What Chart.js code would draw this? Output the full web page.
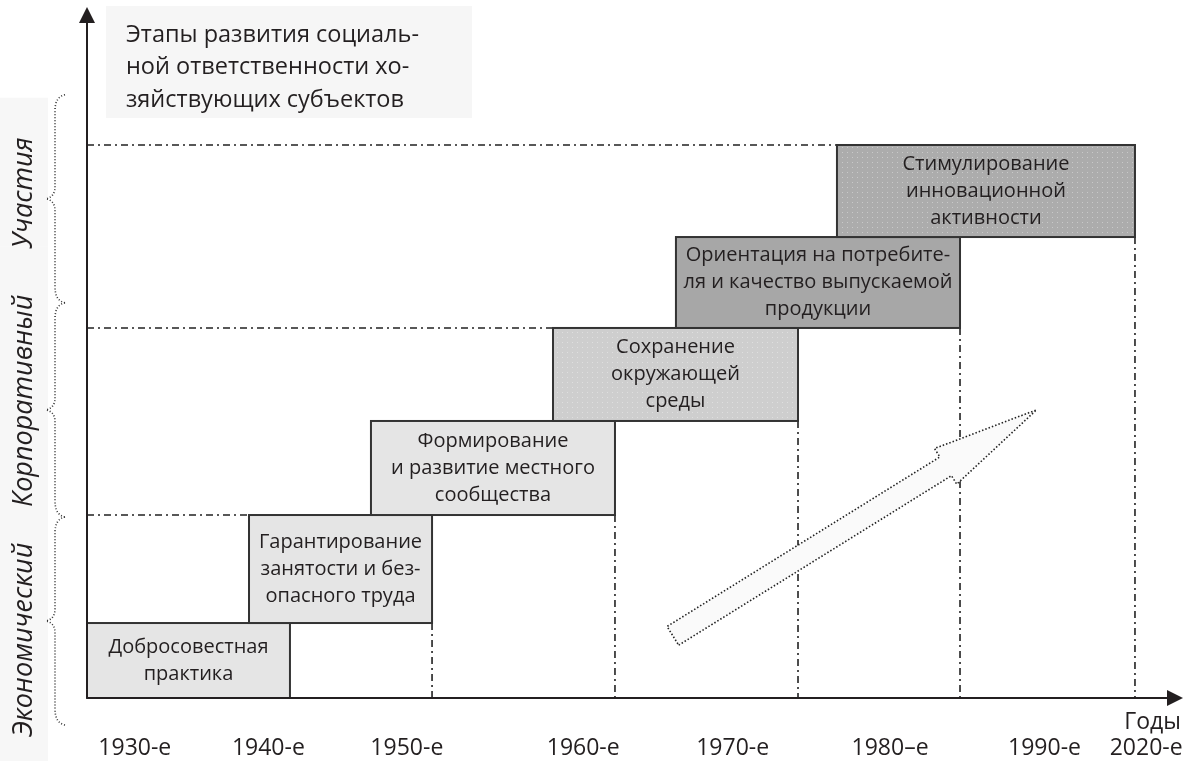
<!DOCTYPE html>
<html>
<head>
<meta charset="utf-8">
<script src="https://cdn.jsdelivr.net/npm/chart.js@4.4.1/dist/chart.umd.min.js"></script>
<style>
  html, body { margin: 0; padding: 0; background: #fff; }
</style>
</head>
<body>
<canvas id="stagesChart" width="1193" height="761"></canvas>
<script>
// x axis: abstract timeline units, y axis: level of responsibility
const tickPositions = [4.8, 18.2, 32.1, 49.8, 64.8, 80.6, 96.1, 106.3];
const tickLabels = ['1930-е', '1940-е', '1950-е', '1960-е', '1970-е', '1980–е', '1990-е', '2020-е'];

const stageNames = [
  ['Добросовестная', 'практика'],
  ['Гарантирование', 'занятости и без-', 'опасного труда'],
  ['Формирование', 'и развитие местного', 'сообщества'],
  ['Сохранение', 'окружающей', 'среды'],
  ['Ориентация на потребите-', 'ля и качество выпускаемой', 'продукции'],
  ['Стимулирование', 'инновационной', 'активности']
];
const stageStart = [0, 16.26, 28.5, 46.77, 59.11, 75.27];
const stageEnd = [20.37, 34.63, 52.99, 71.36, 87.62, 105.18];
const stageBottom = [0, 10.85, 26.48, 40.09, 53.55, 66.71];
const stageTop = [10.85, 26.48, 40.09, 53.55, 66.71, 80.03];

const levelNames = ['Экономический', 'Корпоративный', 'Участия'];
const levelFrom = [-3.9, 26.2, 57.2];
const levelTo = [26.2, 57.2, 87.3];
const levelLabelY = [8.4, 43, 73.1];

const trendFrom = [58.8, 9.0];
const trendTo = [95.3, 41.7];

const titleLines = ['Этапы развития социаль-', 'ной ответственности хо-', 'зяйствующих субъектов'];
const axisName = 'Годы';

// styles
const stageFill = ['#e5e5e5', '#e5e5e5', '#e5e5e5', '#cecece', '#a7a7a7', '#acacac'];
const stageDots = [false, false, false, true, false, true];
const ink = '#231f20';
const FONT = '"Open Sans", "Noto Sans", sans-serif';

function dotPattern(ctx) {
  const c = document.createElement('canvas');
  c.width = 5; c.height = 5;
  const p = c.getContext('2d');
  p.fillStyle = 'rgba(255,255,255,0.35)';
  p.fillRect(2, 2, 1, 1);
  return ctx.createPattern(c, 'repeat');
}

function brace(ctx, x, top, bottom) {
  const mid = (top + bottom) / 2;
  const xr = x + 10, xl = x - 9;
  ctx.beginPath();
  ctx.moveTo(xr, top);
  ctx.quadraticCurveTo(x, top + 2, x, top + 16);
  ctx.lineTo(x, mid - 12);
  ctx.quadraticCurveTo(x, mid - 2, xl, mid);
  ctx.quadraticCurveTo(x, mid + 2, x, mid + 12);
  ctx.lineTo(x, bottom - 16);
  ctx.quadraticCurveTo(x, bottom - 2, xr, bottom);
  ctx.stroke();
}

const diagramPlugin = {
  id: 'diagram',
  beforeDatasetsDraw(chart) {
    const { ctx, chartArea: a, scales: { x, y } } = chart;
    ctx.save();

    // title panel
    ctx.fillStyle = '#f6f6f6';
    ctx.fillRect(106, 6, 366, 112);
    ctx.fillStyle = ink;
    ctx.font = '23.5px ' + FONT;
    ctx.textAlign = 'left';
    ctx.textBaseline = 'middle';
    titleLines.forEach((t, i) => ctx.fillText(t, 126, 35 + i * 32.5));

    // left level labels with braces
    levelNames.forEach((name, i) => {
      const yTop = y.getPixelForValue(levelTo[i]);
      const yBot = y.getPixelForValue(levelFrom[i]);
      ctx.fillStyle = '#f7f7f7';
      const sTop = i === 2 ? yTop + 3 : yTop - 56;
      const sBot = i === 0 ? chart.height : yBot - 56;
      ctx.fillRect(0, sTop, 48, sBot - sTop);
      ctx.strokeStyle = '#333';
      ctx.lineWidth = 1.6;
      ctx.setLineDash([1, 2]);
      brace(ctx, 55, yTop, yBot);
      ctx.setLineDash([]);
      ctx.save();
      ctx.translate(24, y.getPixelForValue(levelLabelY[i]));
      ctx.rotate(-Math.PI / 2);
      ctx.fillStyle = ink;
      ctx.font = 'italic 27px ' + FONT;
      ctx.textAlign = 'center';
      ctx.textBaseline = 'middle';
      ctx.fillText(name, 0, 0);
      ctx.restore();
    });

    // dash-dot guides
    ctx.strokeStyle = '#222';
    ctx.lineWidth = 1.6;
    ctx.setLineDash([7, 4, 2, 4]);
    [1, 3, 5].forEach(i => {
      ctx.beginPath();
      ctx.moveTo(x.getPixelForValue(0), y.getPixelForValue(stageTop[i]));
      ctx.lineTo(x.getPixelForValue(stageStart[i]), y.getPixelForValue(stageTop[i]));
      ctx.stroke();
    });
    for (let i = 1; i < stageNames.length; i++) {
      ctx.beginPath();
      ctx.moveTo(x.getPixelForValue(stageEnd[i]), y.getPixelForValue(stageBottom[i]));
      ctx.lineTo(x.getPixelForValue(stageEnd[i]), y.getPixelForValue(0));
      ctx.stroke();
    }
    ctx.setLineDash([]);

    // stage boxes
    const dots = dotPattern(ctx);
    stageNames.forEach((lines, i) => {
      const x0 = x.getPixelForValue(stageStart[i]);
      const x1 = x.getPixelForValue(stageEnd[i]);
      const y0 = y.getPixelForValue(stageTop[i]);
      const y1 = y.getPixelForValue(stageBottom[i]);
      ctx.fillStyle = stageFill[i];
      ctx.fillRect(x0, y0, x1 - x0, y1 - y0);
      if (stageDots[i]) {
        ctx.fillStyle = dots;
        ctx.fillRect(x0, y0, x1 - x0, y1 - y0);
      }
      ctx.strokeStyle = '#333';
      ctx.lineWidth = 2;
      ctx.strokeRect(x0, y0, x1 - x0, y1 - y0);
      ctx.fillStyle = ink;
      ctx.font = '20px ' + FONT;
      ctx.textAlign = 'center';
      ctx.textBaseline = 'middle';
      const cy = (y0 + y1) / 2;
      const lh = 27;
      lines.forEach((t, k) => {
        ctx.fillText(t, (x0 + x1) / 2, cy + (k - (lines.length - 1) / 2) * lh);
      });
    });

    // trend arrow
    const tx0 = x.getPixelForValue(trendFrom[0]), ty0 = y.getPixelForValue(trendFrom[1]);
    const tx1 = x.getPixelForValue(trendTo[0]), ty1 = y.getPixelForValue(trendTo[1]);
    const len = Math.hypot(tx1 - tx0, ty1 - ty0);
    const ux = (tx1 - tx0) / len, uy = (ty1 - ty0) / len;
    const nx = -uy, ny = ux;
    const shaft = 11, head = 21, headLen = 107;
    const bx = tx1 - ux * headLen, by = ty1 - uy * headLen;
    ctx.beginPath();
    ctx.moveTo(tx0 + nx * shaft, ty0 + ny * shaft);
    ctx.lineTo(bx + nx * shaft, by + ny * shaft);
    ctx.lineTo(bx + nx * head, by + ny * head);
    ctx.lineTo(tx1, ty1);
    ctx.lineTo(bx - nx * head, by - ny * head);
    ctx.lineTo(bx - nx * shaft, by - ny * shaft);
    ctx.lineTo(tx0 - nx * shaft, ty0 - ny * shaft);
    ctx.closePath();
    ctx.fillStyle = '#fafafa';
    ctx.fill();
    ctx.strokeStyle = '#222';
    ctx.lineWidth = 1.6;
    ctx.setLineDash([1.5, 2]);
    ctx.stroke();
    ctx.setLineDash([]);

    // axes with arrow heads
    const ox = a.left, oy = a.bottom;
    ctx.strokeStyle = ink;
    ctx.fillStyle = ink;
    ctx.lineWidth = 2;
    ctx.beginPath();
    ctx.moveTo(ox, oy);
    ctx.lineTo(ox, a.top + 14);
    ctx.moveTo(ox, oy);
    ctx.lineTo(a.right - 14, oy);
    ctx.stroke();
    ctx.beginPath();
    ctx.moveTo(ox, a.top);
    ctx.lineTo(ox - 8, a.top + 16);
    ctx.lineTo(ox + 8, a.top + 16);
    ctx.closePath();
    ctx.fill();
    ctx.beginPath();
    ctx.moveTo(a.right, oy);
    ctx.lineTo(a.right - 16, oy - 8);
    ctx.lineTo(a.right - 16, oy + 8);
    ctx.closePath();
    ctx.fill();

    ctx.font = '23px ' + FONT;
    ctx.textAlign = 'right';
    ctx.textBaseline = 'middle';
    ctx.fillText(axisName, a.right - 2, 722);
    ctx.restore();
  }
};

new Chart(document.getElementById('stagesChart'), {
  type: 'scatter',
  data: { datasets: [{ data: [] }] },
  options: {
    responsive: false,
    animation: false,
    devicePixelRatio: 1,
    layout: { padding: { left: 87, right: 10, top: 7, bottom: 0 } },
    plugins: { legend: { display: false }, tooltip: { enabled: false } },
    scales: {
      x: {
        type: 'linear',
        min: 0,
        max: 110,
        grid: { display: false, drawTicks: false },
        border: { display: false },
        afterBuildTicks: s => { s.ticks = tickPositions.map(v => ({ value: v })); },
        afterFit: s => { s.height = 63; s.paddingLeft = 0; s.paddingRight = 0; },
        ticks: {
          autoSkip: false,
          maxRotation: 0,
          padding: 37,
          color: ink,
          font: { family: FONT, size: 23 },
          callback: (v, i) => tickLabels[i]
        }
      },
      y: { type: 'linear', min: 0, max: 100, display: false }
    }
  },
  plugins: [diagramPlugin]
});
</script>
</body>
</html>
